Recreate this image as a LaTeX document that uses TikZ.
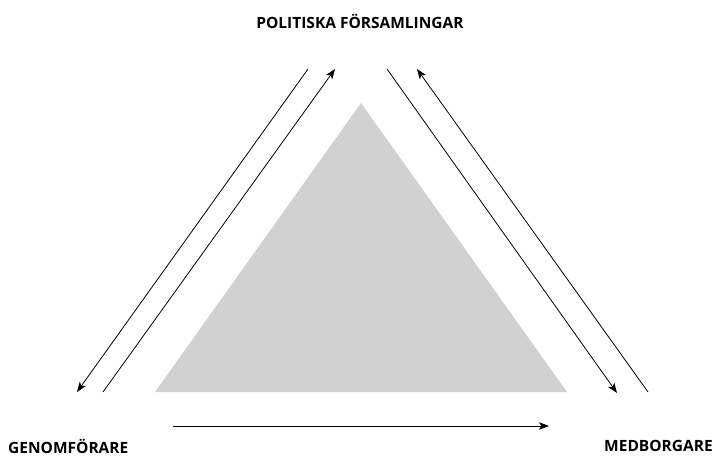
\documentclass[tikz,border=0pt]{standalone}
\usepackage{fontspec}
\setmainfont{Open Sans}
\usetikzlibrary{arrows.meta}

\definecolor{trigray}{HTML}{D1D1D1}

\begin{document}
\begin{tikzpicture}[x=1pt, y=-1pt,
        actor/.style={font=\bfseries\fontsize{15.5}{18}\selectfont, inner sep=0pt},
        flow/.style={line width=0.8pt, -{Stealth[length=10pt, width=7.5pt, inset=2.5pt]}}]
    \useasboundingbox (0,0) rectangle (715,456);

    % grey triangle in the middle
    \fill[trigray] (361,103) -- (567,392) -- (155,392) -- cycle;

    \node (Pol) [actor] at (360,21) {POLITISKA FÖRSAMLINGAR};
    \node (Gen) [actor, anchor=west] at (8,446) {GENOMFÖRARE};
    \node (Med) [actor, anchor=east] at (713,446) {MEDBORGARE};

    % ends of the arrows
    \coordinate (PolGenA) at (308,69);
    \coordinate (GenPolA) at (77,392);
    \coordinate (GenPolB) at (103,392);
    \coordinate (PolGenB) at (335,69);
    \coordinate (PolMedA) at (387,69);
    \coordinate (MedPolA) at (617,393);
    \coordinate (MedPolB) at (648,392);
    \coordinate (PolMedB) at (417,69);
    \coordinate (GenMed) at (173,426);
    \coordinate (MedGen) at (549,426);

    \path (PolGenA) edge[flow] (GenPolA)
          (GenPolB) edge[flow] (PolGenB)
          (PolMedA) edge[flow] (MedPolA)
          (MedPolB) edge[flow] (PolMedB)
          (GenMed) edge[flow] (MedGen);
\end{tikzpicture}
\end{document}
